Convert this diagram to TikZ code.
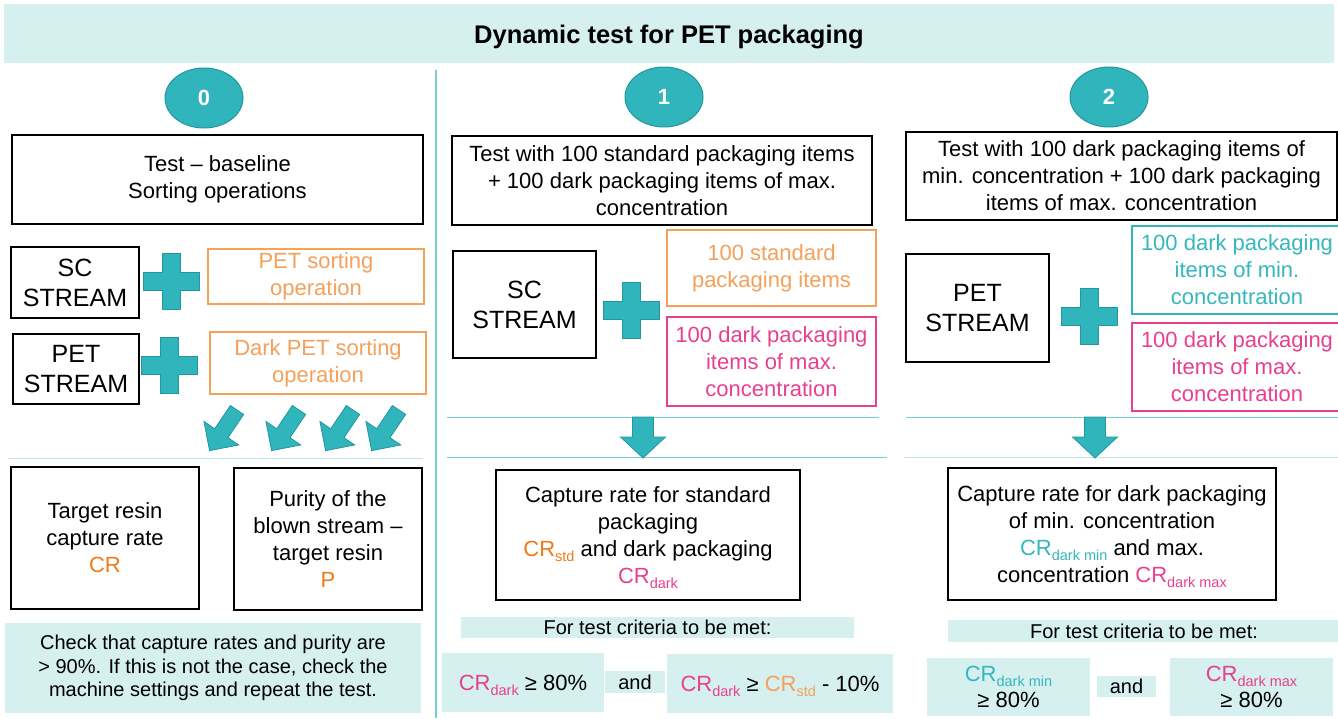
\documentclass[tikz,border=0pt]{standalone}
\usepackage{fontspec}
\setmainfont{Liberation Sans}
\usetikzlibrary{shapes.geometric}
\definecolor{teal1}{HTML}{2FB5BB}
\definecolor{tealdk}{HTML}{23979C}
\definecolor{band}{HTML}{D6F0F0}
\definecolor{tline}{HTML}{74CFD3}
\definecolor{tlinelt}{HTML}{BFE6E8}
\definecolor{orbox}{HTML}{F4A15C}
\definecolor{ortxt}{HTML}{F07A17}
\definecolor{pnk}{HTML}{E8408E}
\definecolor{tltxt}{HTML}{35B8BD}
\newcommand\myfs[2]{\fontsize{#1}{#2}\selectfont}
\newcommand\lsub[1]{\raisebox{-5pt}[0pt][0pt]{\myfs{14.5}{14.5}#1}}
\tikzset{
  box/.style={draw=black, line width=1.5pt, inner sep=0pt, align=center, font=\myfs{22}{27}},
  bigbox/.style={box, font=\myfs{25}{30}},
  obox/.style={box, draw=orbox, text=orbox, line width=2pt},
  pbox/.style={box, draw=pnk, text=pnk, line width=2pt},
  tbox/.style={box, draw=teal1, text=tltxt, line width=2pt},
  fillbox/.style={fill=band, inner sep=0pt, align=center, font=\myfs{20}{23.5}},
  critbox/.style={fill=band, inner sep=0pt, align=center, font=\myfs{22}{26}},
  numel/.style={ellipse, fill=teal1, draw=tealdk, line width=1pt, minimum width=78pt, minimum height=60pt, inner sep=0pt, text=white, font=\bfseries\myfs{22}{22}},
  wh/.style 2 args={minimum width=#1pt, minimum height=#2pt},
  plussign/.pic={\filldraw[fill=teal1, draw=tealdk, line width=0.8pt] (-9,-28) -- (9,-28) -- (9,-9) -- (28,-9) -- (28,9) -- (9,9) -- (9,28) -- (-9,28) -- (-9,9) -- (-28,9) -- (-28,-9) -- (-9,-9) -- cycle;},
  diagarrow/.pic={\filldraw[fill=teal1, draw=tealdk, line width=0.8pt] (0,-8) -- (28,-8) -- (28,-21) -- (49,0) -- (28,21) -- (28,8) -- (0,8) -- cycle;},
  downarrow/.pic={\filldraw[fill=teal1, draw=tealdk, line width=0.8pt] (-10.5,0) -- (10.5,0) -- (10.5,20) -- (22.5,20) -- (0,41) -- (-22.5,20) -- (-10.5,20) -- cycle;}
}
\begin{document}
\begin{tikzpicture}[x=1pt,y=-1pt]
\fill[white] (0,0) rectangle (1338,718);
\useasboundingbox (0,0) rectangle (1338,718);
% title
\node[fill=band, wh={1330}{59}, inner sep=0pt] (titleband) at (669,33.5) {};
\node[font=\bfseries\myfs{25.5}{25.5}, inner sep=0pt] (title) at (669,37) {Dynamic test for PET packaging};
% divider
\draw[tline, line width=1.5pt] (436,70) -- (436,718);
% horizontal thin lines
\draw[tlinelt, line width=1pt] (8,458) -- (423,458);
\draw[tline, line width=1pt] (447,417) -- (879,417);
\draw[tline, line width=1pt] (447,457) -- (887,457);
\draw[tline, line width=1pt] (906,417) -- (1338,417);
\draw[tlinelt, line width=1pt] (904,457) -- (1338,457);

% ===== column 0 =====
\node[numel] (n0) at (204,98) {0};
\node[box, wh={411}{89}] (b0top) at (217.5,179.5) {Test – baseline\\Sorting operations};
\node[bigbox, wh={128}{71}] (sc0) at (75,282.5) {SC\\STREAM};
\pic at (171,281.5) {plussign};
\node[obox, wh={216}{55}] (pso) at (316,276.5) {PET sorting\\operation};
\node[bigbox, wh={126}{70}] (pet0) at (76,369) {PET\\STREAM};
\pic at (169.5,365) {plussign};
\node[obox, wh={216}{62}] (dpso) at (318,363) {Dark PET sorting\\operation};
\pic[rotate=-124] at (237,410) {diagarrow};
\pic[rotate=-124] at (299,410) {diagarrow};
\pic[rotate=-124] at (353,410) {diagarrow};
\pic[rotate=-124] at (399,410) {diagarrow};
\node[box, wh={188}{142}] (cr0) at (105,538) {Target resin\\capture rate\\{\color{ortxt}CR}};
\node[box, wh={188}{142}] (p0) at (328,539) {Purity of the\\blown stream –\\target resin\\{\color{ortxt}P}};
\node[fillbox, wh={416}{90}] (chk0) at (213,668) {Check that capture rates and purity are\\> 90\%. If this is not the case, check the\\machine settings and repeat the test.};

% ===== column 1 =====
\node[numel] (n1) at (664,97) {1};
\node[box, wh={420}{89}] (b1top) at (662,180.5) {Test with 100 standard packaging items\\+ 100 dark packaging items of max.\\concentration};
\node[bigbox, wh={143}{107}] (sc1) at (524.5,304.5) {SC\\STREAM};
\pic at (631,310.5) {plussign};
\node[obox, wh={209}{76}] (std1) at (771.5,268) {100 standard\\packaging items};
\node[pbox, wh={209}{89}] (dark1) at (771.5,361.5) {100 dark packaging\\items of max.\\concentration};
\pic at (643,417) {downarrow};
\node[box, wh={304}{130}] (cap1) at (648,535) {Capture rate for standard\\packaging\\{\color{ortxt}CR\lsub{std}} and dark packaging\\{\color{pnk}CR\lsub{dark}}};
\node[fillbox, wh={393}{21}] (crit1) at (657.5,627.5) {For test criteria to be met:};
\node[critbox, wh={162}{59}] (c1a) at (523,682.5) {{\color{pnk}CR\lsub{dark}} ≥ 80\%};
\node[fillbox, wh={60}{22}] (and1) at (635,682) {and};
\node[critbox, wh={226}{59}] (c1b) at (780,683.5) {{\color{pnk}CR\lsub{dark}} ≥ {\color{orbox}CR\lsub{std}} - 10\%};

% ===== column 2 =====
\node[numel] (n2) at (1109,97) {2};
\node[box, wh={431}{88}] (b2top) at (1121.5,176) {Test with 100 dark packaging items of\\min. concentration + 100 dark packaging\\items of max. concentration};
\node[bigbox, wh={143}{108}] (pet2) at (977.5,308) {PET\\STREAM};
\pic at (1089,316) {plussign};
\node[tbox, wh={210}{88}] (min2) at (1237,270) {100 dark packaging\\items of min.\\concentration};
\node[pbox, wh={210}{88}] (max2) at (1237,367) {100 dark packaging\\items of max.\\concentration};
\pic at (1095,417) {downarrow};
\node[box, wh={328}{132}] (cap2) at (1112,534) {Capture rate for dark packaging\\of min. concentration\\{\color{tltxt}CR\lsub{dark min}} and max.\\concentration {\color{pnk}CR\lsub{dark max}}};
\node[fillbox, wh={392}{22}] (crit2) at (1144,631) {For test criteria to be met:};
\node[critbox, wh={163}{58}] (c2a) at (1008.5,687) {{\color{tltxt}CR\lsub{dark min}}\\≥ 80\%};
\node[fillbox, wh={59}{21}] (and2) at (1126.5,686.5) {and};
\node[critbox, wh={163}{58}] (c2b) at (1251.5,687) {{\color{pnk}CR\lsub{dark max}}\\≥ 80\%};
\end{tikzpicture}
\end{document}
